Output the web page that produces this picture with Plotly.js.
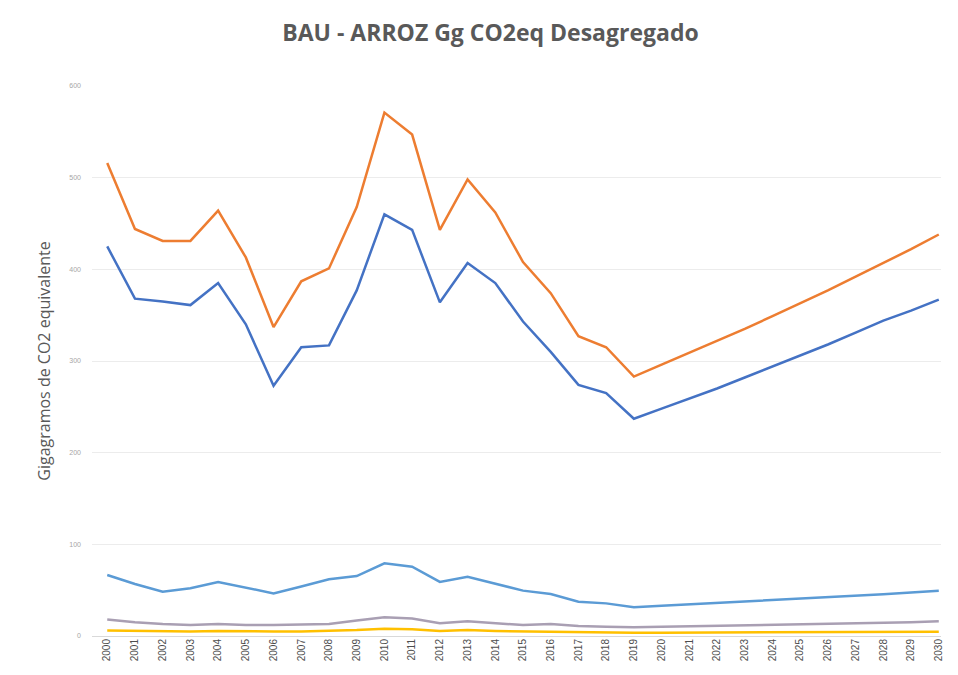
<!DOCTYPE html>
<html>
<head>
<meta charset="utf-8">
<script src="https://cdn.plot.ly/plotly-3.0.1.min.js"></script>
<style>
  html, body { margin: 0; padding: 0; background: #fff; }
  #chart { width: 958px; height: 675px; }
</style>
</head>
<body>
<div id="chart"></div>
<script>
// anos 2000 - 2030
var years = [2000, 2001, 2002, 2003, 2004, 2005, 2006, 2007, 2008, 2009, 2010,
             2011, 2012, 2013, 2014, 2015, 2016, 2017, 2018, 2019, 2020,
             2021, 2022, 2023, 2024, 2025, 2026, 2027, 2028, 2029, 2030];

// total (naranja)
var total = [516, 444, 431, 431, 464, 413, 337, 387, 401, 468, 571,
             547, 443, 498, 462, 408, 374, 327, 315, 283, 296,
             309, 322, 335, 349, 363, 377, 392, 407, 422, 438];

// azul oscuro
var serieA = [425, 368, 365, 361, 385, 340, 273, 315, 317, 377, 460,
              443, 364, 407, 385, 343, 310, 274, 265, 237, 248,
              259, 270, 282, 294, 306, 318, 331, 344, 355, 367];

// azul claro
var serieB = [66.5, 56.7, 48.4, 52, 59, 53, 46.5, 54, 62, 65.4, 79.3,
              75.6, 59, 64.7, 57.4, 49.5, 45.8, 37.4, 35.6, 31.3, 33,
              34.5, 36, 37.5, 39, 40.5, 42, 43.5, 45.5, 47.5, 49.5];

// gris
var serieC = [18, 15, 13, 12, 13, 12, 12, 12.5, 13, 17, 20.5,
              19, 14, 16, 14, 12, 13, 11, 10, 9.5, 10,
              10.5, 11, 11.5, 12, 12.5, 13.5, 14, 14.5, 15, 16];

// amarillo
var serieD = [6, 5.5, 5, 5, 5.5, 5, 5, 5, 5.5, 6.5, 8,
              7.5, 5.5, 6.5, 5.5, 5, 5, 4.5, 4, 3.5, 3.6,
              3.7, 3.8, 3.9, 4, 4.1, 4.2, 4.3, 4.4, 4.5, 4.6];

var mk = function(y, color){
  return { x: years, y: y, type: 'scatter', mode: 'lines',
           line: { color: color, width: 2.5 }, hoverinfo: 'x+y' };
};

var data = [
  mk(serieD, '#FFC000'),
  mk(serieC, '#A99FB3'),
  mk(serieB, '#5B9BD5'),
  mk(serieA, '#4472C4'),
  mk(total, '#ED7D31')
];

var layout = {
  width: 958,
  height: 675,
  margin: { l: 92, r: 17, t: 86, b: 39 },
  paper_bgcolor: '#fff',
  plot_bgcolor: '#fff',
  showlegend: false,
  title: {
    text: '<b>BAU - ARROZ Gg CO2eq Desagregado</b>',
    font: { family: 'Open Sans, sans-serif', size: 23, color: '#595959' },
    x: 0.512, xanchor: 'center', y: 0.951, yanchor: 'middle'
  },
  xaxis: {
    range: [1999.45, 2030.08],
    tickmode: 'array',
    tickvals: years,
    ticktext: years.map(String),
    tickangle: -90,
    tickfont: { family: 'Liberation Sans, sans-serif', size: 10, color: '#4d4d4d' },
    showgrid: false,
    zeroline: false,
    showline: false,
    fixedrange: true
  },
  yaxis: {
    range: [0, 600],
    dtick: 100,
    tickfont: { family: 'Liberation Sans, sans-serif', size: 7, color: '#a6a6a6' },
    ticklabelstandoff: 10,
    gridcolor: '#ececec',
    gridwidth: 1,
    zeroline: true,
    zerolinecolor: '#d9d9d9',
    zerolinewidth: 1,
    title: {
      text: 'Gigagramos de CO2 equivalente',
      font: { family: 'Open Sans, sans-serif', size: 16, color: '#595959' },
      standoff: 14
    },
    fixedrange: true
  }
};

Plotly.newPlot('chart', data, layout, { displayModeBar: false, staticPlot: true });
</script>
</body>
</html>
